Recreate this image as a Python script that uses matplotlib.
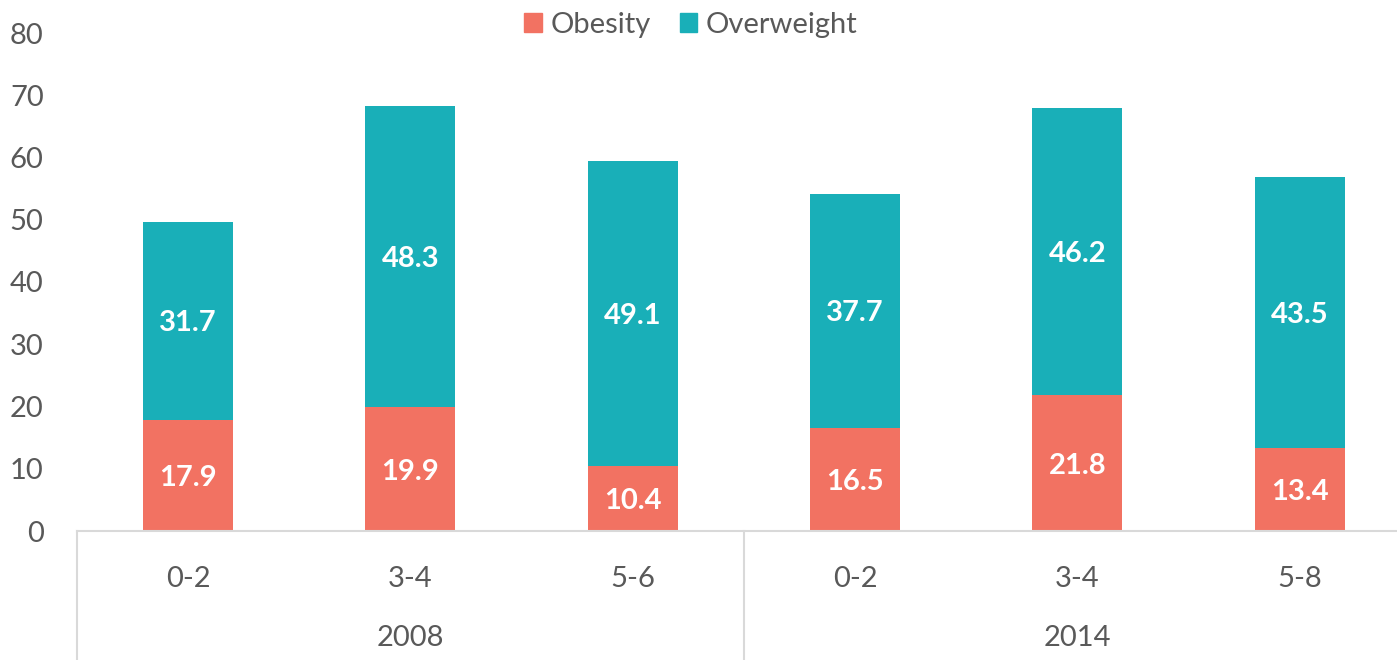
import matplotlib
matplotlib.use("Agg")
import matplotlib.pyplot as plt
from matplotlib.lines import Line2D
from matplotlib.patches import Patch

age_groups = ["0-2", "3-4", "5-6", "0-2", "3-4", "5-8"]
years = ["2008", "2014"]
obesity = [17.9, 19.9, 10.4, 16.5, 21.8, 13.4]
overweight = [31.7, 48.3, 49.1, 37.7, 46.2, 43.5]
yticks = [0, 10, 20, 30, 40, 50, 60, 70, 80]

C_OB = "#F27262"
C_OW = "#19AFB8"
GRAY = "#595959"
LINE = "#D9D9D9"
FONT = "Lato"

W, H = 1397, 660
fig = plt.figure(figsize=(W / 100, H / 100), dpi=100)
ax = fig.add_axes([77 / W, 1 - 531 / H, (W - 77) / W, (531 - 33) / H])

x = list(range(len(age_groups)))
bw = 0.405
ax.bar(x, obesity, width=bw, color=C_OB, label="Obesity", zorder=2)
ax.bar(x, overweight, width=bw, bottom=obesity, color=C_OW, label="Overweight", zorder=2)

for i in x:
    ax.text(i, obesity[i] / 2, f"{obesity[i]:.1f}", ha="center", va="center_baseline",
            color="white", fontsize=21, fontweight="bold", family=FONT, zorder=3)
    ax.text(i, obesity[i] + overweight[i] / 2, f"{overweight[i]:.1f}", ha="center",
            va="center_baseline", color="white", fontsize=21, fontweight="bold",
            family=FONT, zorder=3)

ax.set_ylim(0, 80)
ax.set_xlim(-0.5, -0.5 + (W - 77) / 222.3)
ax.set_yticks(yticks)
ax.set_yticklabels([str(v) for v in yticks], fontsize=21, color=GRAY, family=FONT)
ax.tick_params(axis="y", length=0, pad=24)
ax.set_xticks([])
for s in ["top", "right", "left"]:
    ax.spines[s].set_visible(False)
ax.spines["bottom"].set_color(LINE)
ax.spines["bottom"].set_linewidth(1.5)

xt = ax.get_xaxis_transform()
ppx = 531 - 33
for i, lab in enumerate(age_groups):
    ax.text(i, -(579 - 531) / ppx, lab, transform=xt, ha="center", va="center",
            fontsize=21, color=GRAY, family=FONT)

for g, yr in enumerate(years):
    ax.text(g * 3 + 1, -(638 - 531) / ppx, yr, transform=xt,
            ha="center", va="center", fontsize=21, color=GRAY, family=FONT)

for sx in [-0.5, 2.5, 5.5]:
    ax.add_line(Line2D([sx, sx], [0, -(660 - 531) / ppx], transform=xt,
                       color=LINE, lw=1.5, clip_on=False))

handles = [Patch(color=C_OB, label="Obesity"), Patch(color=C_OW, label="Overweight")]
leg = fig.legend(handles=handles, loc="center", bbox_to_anchor=(691 / W, 1 - 25 / H), ncol=2,
                 frameon=False, prop={"family": FONT, "size": 21}, handlelength=0.6,
                 handleheight=0.6, handletextpad=0.3, columnspacing=1.0)
for t in leg.get_texts():
    t.set_color(GRAY)

fig.savefig("out.png", dpi=100)
